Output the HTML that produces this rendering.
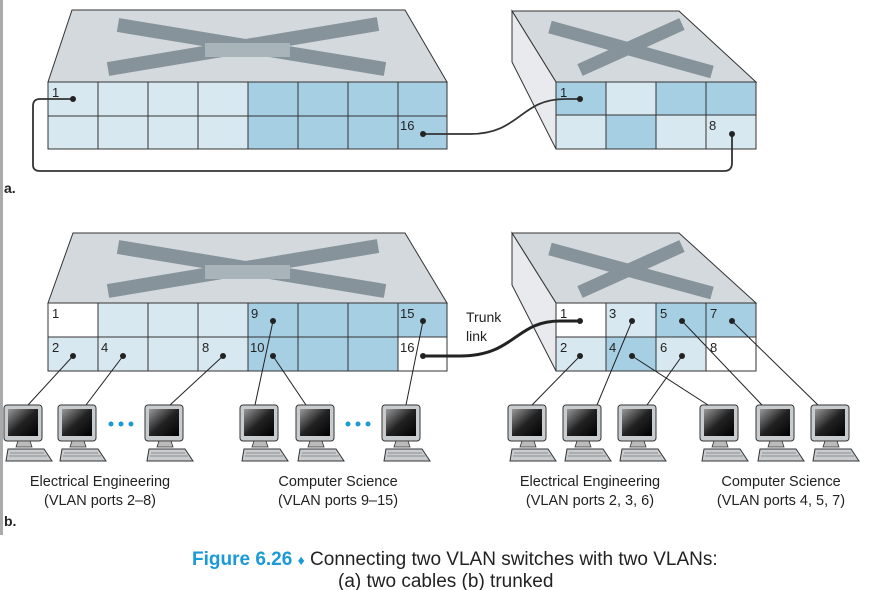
<!DOCTYPE html>
<html><head><meta charset="utf-8"><style>
body{margin:0;background:#fff;}
svg{display:block;font-family:"Liberation Sans",sans-serif;}
</style></head><body>
<svg width="870" height="590" viewBox="0 0 870 590" xmlns="http://www.w3.org/2000/svg">
<defs>
<linearGradient id="scr" x1="0" y1="0" x2="1" y2="1">
<stop offset="0" stop-color="#9a9a9a"/><stop offset="0.5" stop-color="#222"/><stop offset="1" stop-color="#000"/>
</linearGradient>
<g id="pc">
<rect x="0" y="0" width="38" height="36" rx="3" fill="#c9cccf" stroke="#333" stroke-width="1"/>
<rect x="4" y="4" width="30" height="27" fill="url(#scr)"/>
<path d="M14 36 L12 42 L28 42 L26 36 Z" fill="#bbb" stroke="#333" stroke-width="0.8"/>
<path d="M4 44 L40 44 L48 56 L2 56 Z" fill="#c9cccf" stroke="#333" stroke-width="1"/>
<path d="M6 48 L40 48 M5 51 L43 51" stroke="#777" stroke-width="0.7"/>
</g>
</defs>
<rect x="0" y="0" width="3" height="535" fill="#aaa"/>

<!-- ===== a. left switch ===== -->
<polygon points="72,10 405,10 447,82 48,82" fill="#d4d9dd" stroke="#333"/>
<g stroke="#87939b" stroke-width="14" stroke-linecap="butt">
<line x1="118" y1="25" x2="385" y2="69"/><line x1="378" y1="24" x2="108" y2="69"/>
</g>
<rect x="205" y="43" width="85" height="14" fill="#a9b3ba"/>
<g stroke="#333">
<rect x="48" y="82" width="200" height="67" fill="#d8e8f1"/>
<rect x="248" y="82" width="199" height="67" fill="#a6cfe3"/>
<path d="M48 116H447 M98 82V149 M148 82V149 M198 82V149 M248 82V149 M298 82V149 M348 82V149 M398 82V149" fill="none"/>
</g>
<!-- a. right switch -->
<polygon points="512,11 679,11 756,82 556,82" fill="#d4d9dd" stroke="#333"/>
<polygon points="512,11 556,82 556,149 512,62" fill="#e8eaed" stroke="#333"/>
<g stroke="#87939b" stroke-width="13">
<line x1="550" y1="27" x2="712" y2="72"/><line x1="682" y1="24" x2="580" y2="70"/>
</g>
<g stroke="#333">
<rect x="556" y="82" width="50" height="33" fill="#a6cfe3"/><rect x="606" y="82" width="50" height="33" fill="#d8e8f1"/>
<rect x="656" y="82" width="50" height="33" fill="#a6cfe3"/><rect x="706" y="82" width="50" height="33" fill="#a6cfe3"/>
<rect x="556" y="115" width="50" height="34" fill="#d8e8f1"/><rect x="606" y="115" width="50" height="34" fill="#a6cfe3"/>
<rect x="656" y="115" width="50" height="34" fill="#d8e8f1"/><rect x="706" y="115" width="50" height="34" fill="#d8e8f1"/>
</g>
<g font-size="13" fill="#222">
<text x="52" y="97">1</text><text x="400" y="130">16</text><text x="560" y="97">1</text><text x="709" y="130">8</text>
</g>
<g fill="none" stroke="#333" stroke-width="1.8">
<path d="M73 99 H40 Q33 99 33 106 V165 Q33 171 40 171 H724 Q732 171 732 163 V134"/>
<path d="M423 134 H470 C520 134 520 99 565 99 H580"/>
</g>
<g fill="#222"><circle cx="73" cy="99" r="3"/><circle cx="423" cy="134" r="3"/><circle cx="580" cy="99" r="3"/><circle cx="732" cy="134" r="3"/></g>
<text x="4" y="193" font-size="14" font-weight="bold" fill="#222">a.</text>

<!-- ===== b. left switch ===== -->
<polygon points="73,233 405,233 447,303 48,303" fill="#d4d9dd" stroke="#333"/>
<g stroke="#87939b" stroke-width="14">
<line x1="118" y1="247" x2="385" y2="291"/><line x1="378" y1="246" x2="108" y2="291"/>
</g>
<rect x="205" y="265" width="85" height="14" fill="#a9b3ba"/>
<g stroke="#333">
<rect x="48" y="303" width="200" height="68" fill="#d8e8f1"/>
<rect x="248" y="303" width="199" height="68" fill="#a6cfe3"/>
<rect x="48" y="303" width="50" height="34" fill="#fff"/>
<rect x="398" y="337" width="49" height="34" fill="#fff"/>
<path d="M48 337H447 M98 303V371 M148 303V371 M198 303V371 M248 303V371 M298 303V371 M348 303V371 M398 303V371" fill="none"/>
</g>
<!-- b. right switch -->
<polygon points="512,233 679,233 756,303 556,303" fill="#d4d9dd" stroke="#333"/>
<polygon points="512,233 556,303 556,371 512,285" fill="#e8eaed" stroke="#333"/>
<g stroke="#87939b" stroke-width="13">
<line x1="550" y1="249" x2="712" y2="293"/><line x1="682" y1="246" x2="580" y2="292"/>
</g>
<g stroke="#333">
<rect x="556" y="303" width="50" height="34" fill="#fff"/><rect x="606" y="303" width="50" height="34" fill="#d8e8f1"/>
<rect x="656" y="303" width="50" height="34" fill="#a6cfe3"/><rect x="706" y="303" width="50" height="34" fill="#a6cfe3"/>
<rect x="556" y="337" width="50" height="34" fill="#d8e8f1"/><rect x="606" y="337" width="50" height="34" fill="#a6cfe3"/>
<rect x="656" y="337" width="50" height="34" fill="#d8e8f1"/><rect x="706" y="337" width="50" height="34" fill="#fff"/>
</g>
<g font-size="13" fill="#222">
<text x="52" y="318">1</text><text x="52" y="352">2</text><text x="101" y="352">4</text><text x="202" y="352">8</text>
<text x="251" y="318">9</text><text x="250" y="352">10</text><text x="400" y="318">15</text><text x="400" y="352">16</text>
<text x="560" y="318">1</text><text x="609" y="318">3</text><text x="660" y="318">5</text><text x="710" y="318">7</text>
<text x="560" y="352">2</text><text x="609" y="352">4</text><text x="660" y="352">6</text><text x="710" y="352">8</text>
</g>
<text x="466" y="322" font-size="14" fill="#222">Trunk</text>
<text x="466" y="341" font-size="14" fill="#222">link</text>
<path d="M423 356 H460 C515 356 515 321 560 321 H580" fill="none" stroke="#222" stroke-width="3"/>
<g stroke="#222" stroke-width="1" fill="none">
<line x1="73" y1="356" x2="28" y2="405"/><line x1="123" y1="356" x2="86" y2="405"/><line x1="223" y1="356" x2="170" y2="405"/>
<line x1="273" y1="321" x2="255" y2="405"/><line x1="273" y1="356" x2="306" y2="405"/><line x1="423" y1="321" x2="406" y2="405"/>
<line x1="580" y1="356" x2="532" y2="405"/><line x1="632" y1="321" x2="597" y2="405"/><line x1="682" y1="356" x2="647" y2="405"/>
<line x1="632" y1="356" x2="708" y2="405"/><line x1="682" y1="321" x2="762" y2="405"/><line x1="732" y1="321" x2="818" y2="405"/>
</g>
<g fill="#222">
<circle cx="73" cy="356" r="3"/><circle cx="123" cy="356" r="3"/><circle cx="223" cy="356" r="3"/><circle cx="273" cy="321" r="3"/>
<circle cx="273" cy="356" r="3"/><circle cx="423" cy="321" r="3"/><circle cx="423" cy="356" r="3"/>
<circle cx="580" cy="321" r="3"/><circle cx="632" cy="321" r="3"/><circle cx="682" cy="321" r="3"/><circle cx="732" cy="321" r="3"/>
<circle cx="580" cy="356" r="3"/><circle cx="632" cy="356" r="3"/><circle cx="682" cy="356" r="3"/>
</g>
<!-- computers -->
<use href="#pc" x="4" y="405"/><use href="#pc" x="58" y="405"/><use href="#pc" x="145" y="405"/>
<use href="#pc" x="240" y="405"/><use href="#pc" x="296" y="405"/><use href="#pc" x="382" y="405"/>
<use href="#pc" x="508" y="405"/><use href="#pc" x="563" y="405"/><use href="#pc" x="618" y="405"/>
<use href="#pc" x="700" y="405"/><use href="#pc" x="756" y="405"/><use href="#pc" x="811" y="405"/>
<g fill="#1a9ad6"><circle cx="111" cy="424" r="2.5"/><circle cx="121" cy="424" r="2.5"/><circle cx="131" cy="424" r="2.5"/>
<circle cx="348" cy="424" r="2.5"/><circle cx="358" cy="424" r="2.5"/><circle cx="368" cy="424" r="2.5"/></g>
<g font-size="14.5" fill="#222" text-anchor="middle">
<text x="100" y="486">Electrical Engineering</text><text x="100" y="505">(VLAN ports 2–8)</text>
<text x="338" y="486">Computer Science</text><text x="338" y="505">(VLAN ports 9–15)</text>
<text x="590" y="486">Electrical Engineering</text><text x="590" y="505">(VLAN ports 2, 3, 6)</text>
<text x="781" y="486">Computer Science</text><text x="781" y="505">(VLAN ports 4, 5, 7)</text>
</g>
<text x="4" y="526" font-size="14" font-weight="bold" fill="#222">b.</text>
<text x="192" y="565" font-size="19" fill="#222"><tspan font-weight="bold" fill="#1a9ad6">Figure 6.26</tspan> <tspan font-size="14" fill="#1a9ad6">♦</tspan> Connecting two VLAN switches with two VLANs:</text>
<text x="338" y="587" font-size="19" fill="#222">(a) two cables (b) trunked</text>
</svg>
</body></html>
